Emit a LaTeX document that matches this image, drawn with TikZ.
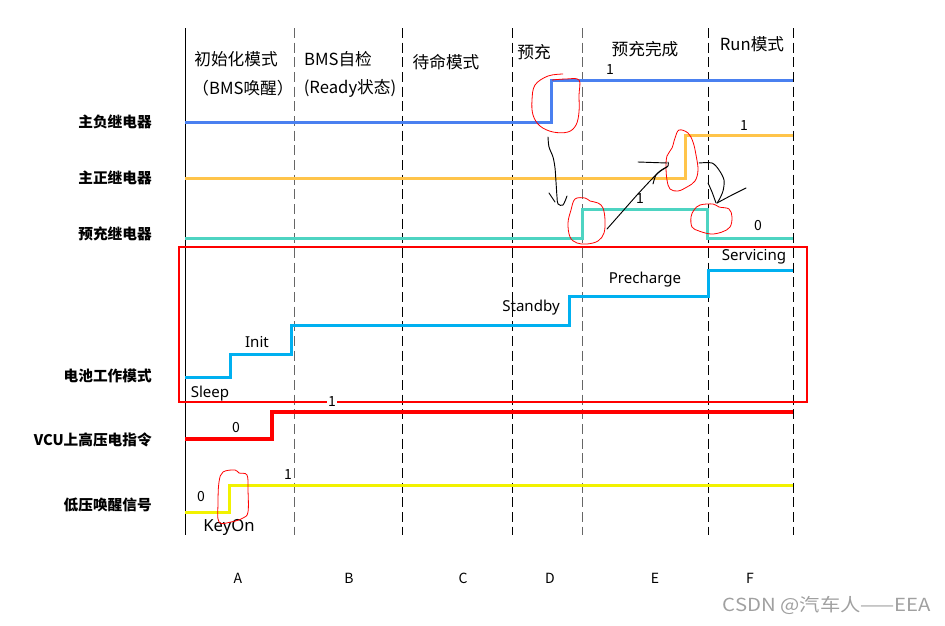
\documentclass[tikz,border=0pt]{standalone}
\usepackage{fontspec}
\setmainfont{Noto Sans CJK SC}
\newfontfamily\latinf{Noto Sans}
\definecolor{sigblue}{HTML}{4A80F0}
\definecolor{sigorange}{HTML}{FFC44A}
\definecolor{sigteal}{HTML}{4ED4C2}
\definecolor{sigcyan}{HTML}{00B0F0}
\definecolor{sigred}{HTML}{FF0000}
\definecolor{sigyellow}{HTML}{F2F200}
\definecolor{wmgray}{HTML}{A0A0A0}
\begin{document}
\begin{tikzpicture}[x=0.75pt,y=-0.75pt,
  sig/.style={line width=2.25pt},
  solidgrid/.style={line width=0.75pt, black},
  dashgrid/.style={line width=0.75pt, dash pattern=on 7.5pt off 3.5pt},
  rowlab/.style={font=\bfseries\fontsize{11}{12}\selectfont, anchor=east, inner sep=0pt},
  head/.style={font=\fontsize{12.5}{14}\selectfont, inner sep=0pt},
  val/.style={font=\fontsize{10.5}{12}\selectfont, inner sep=0pt},
  st/.style={font=\latinf\fontsize{11.3}{13}\selectfont, inner sep=0pt},
  col/.style={font=\fontsize{10.5}{12}\selectfont, inner sep=0pt},
  scrib/.style={red, line width=0.6pt},
  pen/.style={black, line width=0.7pt, line cap=round, line join=round}
]
\path[use as bounding box] (0,0) rectangle (945,625);

% ---------- time grid ----------
\coordinate (g0t) at (185,28);  \coordinate (g0b) at (185,535);
\draw[solidgrid] (g0t) -- (g0b);
\foreach \gx/\gc [count=\i] in {294/black!60, 402/black, 512/black, 582/black!60, 708/black, 793/black}{
  \coordinate (gt\i) at (\gx,28); \coordinate (gb\i) at (\gx,535);
  \draw[dashgrid, \gc] (gt\i) -- (gb\i);
}

% ---------- headers ----------
\node[head] (h1) at (236,59) {初始化模式};
\node[head] (h1b) at (243,88) {（BMS唤醒）};
\node[head] (h2) at (338,59) {BMS自检};
\node[head] (h2b) at (350,88) {(Ready状态)};
\node[head] (h3) at (446,62) {待命模式};
\node[head] (h4) at (534,52) {预充};
\node[head] (h5) at (645,49) {预充完成};
\node[head] (h6) at (752,44) {Run模式};

% ---------- row labels ----------
\node[rowlab] (r1) at (152,122) {主负继电器};
\node[rowlab] (r2) at (152,178) {主正继电器};
\node[rowlab] (r3) at (152,234) {预充继电器};
\node[rowlab] (r4) at (152,376) {电池工作模式};
\node[rowlab] (r5) at (152,440) {VCU上高压电指令};
\node[rowlab] (r6) at (152,505) {低压唤醒信号};

% ---------- signals ----------
% main negative relay
\draw[sig, sigblue] (185,122) -- (551,122) -- (551,80) -- (793,80);
\node[val, fill=white, inner sep=0.5pt] (v1) at (610,70) {1};
% main positive relay
\draw[sig, sigorange] (185,178) -- (685,178) -- (685,135) -- (793,135);
\node[val, fill=white, inner sep=0.5pt] (v2) at (744,126) {1};
% precharge relay
\draw[sig, sigteal] (185,238) -- (582,238) -- (582,209) -- (707,209) -- (707,238) -- (793,238);
\node[val, fill=white, inner sep=0.5pt] (v3) at (640,199) {1};
\node[val] (v4) at (758,226) {0};

% battery mode box
\draw[sigred, line width=1pt] (179,247) rectangle (807,402);
\draw[sig, sigcyan] (185,377) -- (230,377) -- (230,354) -- (291,354) -- (291,325)
   -- (569,325) -- (569,296) -- (708,296) -- (708,270) -- (793,270);
\node[st] (s1) at (210,394) {Sleep};
\node[st] (s2) at (257,342) {Init};
\node[st] (s3) at (531,308) {Standby};
\node[st] (s4) at (645,280) {Precharge};
\node[st] (s5) at (754,257) {Servicing};

% VCU HV command
\draw[sig, sigred, line width=2.6pt] (185,439) -- (272,439) -- (272,412) -- (793,412);
\node[val] (v5) at (236,428) {0};
\node[val, fill=white, inner sep=0.5pt] (v6) at (332,402) {1};

% LV wake-up signal
\draw[sig, sigyellow] (185,512) -- (229,512) -- (229,485) -- (793,485);
\node[val] (v7) at (201,497) {0};
\node[val] (v8) at (288,474) {1};
\node[st, font=\latinf\fontsize{12.5}{14}\selectfont] (ko) at (229,527) {KeyOn};

% ---------- column letters ----------
\node[col] (cA) at (238,578) {A};
\node[col] (cB) at (349,578) {B};
\node[col] (cC) at (463,578) {C};
\node[col] (cD) at (550,578) {D};
\node[col] (cE) at (655,578) {E};
\node[col] (cF) at (750,578) {F};

% ---------- red freehand marks ----------
\draw[scrib] plot[smooth, tension=0.6] coordinates {(563,74) (548,76) (535,85) (532,100) (533,115) (540,126) (553,132) (568,132) (576,125) (579,112) (579,95) (579,80) (566,79) (552,80)};
\draw[scrib] plot[smooth cycle, tension=0.6] coordinates {(688,133) (679,130) (675,138) (672,148) (667,156) (666,167) (667,180) (670,189) (678,191) (687,187) (695,181) (698,170) (696,155) (693,142)};
\draw[scrib] plot[smooth cycle, tension=0.6] coordinates {(575,199) (585,198) (590,201) (598,203) (603,208) (605,220) (604,233) (598,241) (587,244) (577,243) (570,237) (568,223) (571,210)};
\draw[scrib] plot[smooth cycle, tension=0.6] coordinates {(700,205) (713,204) (719,207) (729,209) (732,217) (730,227) (722,232) (711,234) (699,231) (692,227) (691,217) (694,210)};
\draw[scrib] plot[smooth cycle, tension=0.6] coordinates {(223,472) (235,470) (239,473) (247,475) (248,490) (248,512) (243,518) (231,522) (219,522) (218,503) (219,482)};

% ---------- black freehand arrows ----------
\draw[pen] plot[smooth, tension=0.5] coordinates {(548,137) (549,147) (553,157) (555,168) (556,182) (557,197) (558,204) (563,205) (567,196)};
\draw[pen] (549,193) -- (555,202);
\draw[pen] plot[smooth, tension=0.4] coordinates {(607,229) (622,212) (637,195) (650,181) (660,171) (668,166) (668,162)};
\draw[pen] (638,162) -- (667,163);
\draw[pen] plot[smooth, tension=0.5] coordinates {(653,184) (656,175) (662,170) (667,167)};
\draw[pen] plot[smooth, tension=0.5] coordinates {(699,163) (712,163) (719,170) (724,180) (723,191) (719,200) (717,203)};
\draw[pen] plot[smooth, tension=0.5] coordinates {(708,183) (712,192) (716,203)};
\draw[pen] plot[smooth, tension=0.5] coordinates {(746,188) (732,195) (717,203)};

% ---------- watermark ----------
\node[font=\fontsize{13.5}{15}\selectfont, text=wmgray, inner sep=0pt, xscale=1.13] (wm) at (827,605) {CSDN @汽车人——EEA};
\end{tikzpicture}
\end{document}
